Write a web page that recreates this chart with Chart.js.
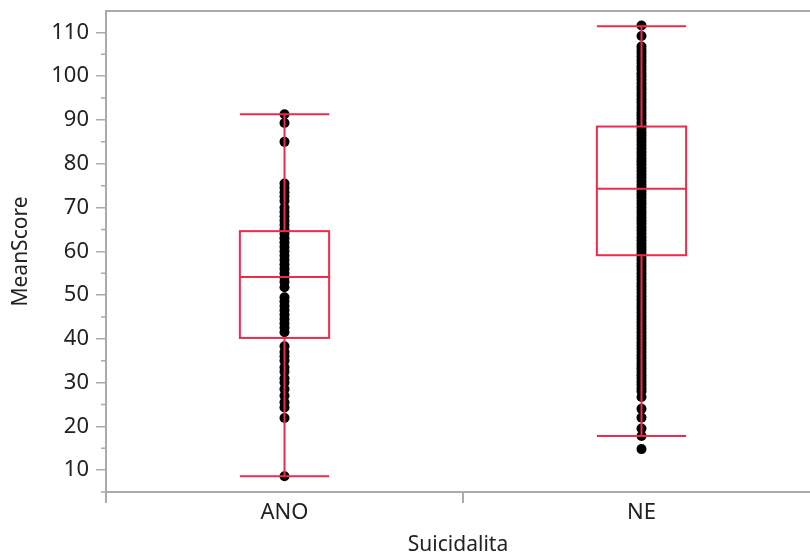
<!DOCTYPE html>
<html>
<head>
<meta charset="utf-8">
<script src="https://cdn.jsdelivr.net/npm/chart.js@4/dist/chart.umd.min.js"></script>
<style>
  html, body { margin: 0; padding: 0; background: #fff; overflow: hidden; }
</style>
</head>
<body>
<canvas id="boxChart" width="810" height="559"></canvas>
<script>
// Data
const categories = ['ANO', 'NE'];
const yTicks = [10, 20, 30, 40, 50, 60, 70, 80, 90, 100, 110];
const yMinorTicks = [5, 15, 25, 35, 45, 55, 65, 75, 85, 95, 105];

const anoScores = [91.3, 89.3, 85, 75.5, 74.5, 73.5, 72.5, 71.5, 70, 69, 68, 67, 66, 65,
    64, 63, 62, 61, 60, 59, 58, 57, 56, 55, 54, 53, 51.8, 49.5, 48.5, 47.5, 46.5, 45.5,
    44.5, 43.5, 42.5, 41.5, 38.3, 37, 36, 35, 33.5, 32.5, 31, 30, 28.5, 27, 25.5, 24.3,
    21.9, 8.6];

const neScores = [111.6, 109.2, 106.8, 106, 105.3, 104.5, 103.7, 103, 102.2, 101.5, 100.6,
    100, 99.2, 98.4, 97.6, 97, 96.2, 95.5, 94.7, 94, 93.2, 92.5, 91.7, 91, 90.3, 89.5, 88.8,
    88, 87.2, 86.5, 85.7, 85, 84.3, 83.5, 82.7, 82, 81.2, 80.5, 79.8, 79, 78.3, 77.5, 76.8,
    76, 75.2, 74.5, 73.7, 73, 72.3, 71.5, 70.8, 70, 69.2, 68.5, 67.7, 67, 66.3, 65.5, 64.8,
    64, 63.2, 62.5, 61.7, 61, 60.3, 59.5, 58.7, 58, 57.2, 56.5, 55.8, 55, 54.2, 53.5, 52.7,
    52, 51.3, 50.5, 49.7, 49, 48.2, 47.5, 46.8, 46, 45.2, 44.5, 43.7, 43, 42.3, 41.5, 40.7,
    40, 39.2, 38.5, 37.8, 37, 36.2, 35.5, 34.7, 34, 33.3, 32.5, 31.7, 31, 30.2, 29.5, 28.7,
    28, 26.7, 24, 22, 19.5, 17.8, 14.8];

// box statistics per category
const whiskerLow = [8.6, 17.8];
const quart1 = [40.2, 59.1];
const medians = [54.1, 74.3];
const quart3 = [64.6, 88.5];
const whiskerHigh = [91.3, 111.4];

const boxRed = '#f02a4c';
const axisGrey = '#ababab';
const fontFamily = '"Noto Sans", "Open Sans", sans-serif';

const boxPlugin = {
    id: 'boxPlot',
    afterDatasetsDraw(chart) {
        const ctx = chart.ctx;
        const xs = chart.scales.x, ys = chart.scales.y;
        const half = 0.125;
        ctx.save();
        ctx.strokeStyle = boxRed;
        ctx.lineWidth = 2;
        categories.forEach((c, i) => {
            const xl = xs.getPixelForValue(i - half);
            const xr = xs.getPixelForValue(i + half);
            const xc = xs.getPixelForValue(i);
            const pLo = ys.getPixelForValue(whiskerLow[i]);
            const pQ1 = ys.getPixelForValue(quart1[i]);
            const pMed = ys.getPixelForValue(medians[i]);
            const pQ3 = ys.getPixelForValue(quart3[i]);
            const pHi = ys.getPixelForValue(whiskerHigh[i]);
            ctx.beginPath();
            // whiskers
            ctx.moveTo(xc, pHi); ctx.lineTo(xc, pQ3);
            ctx.moveTo(xc, pQ1); ctx.lineTo(xc, pLo);
            // caps
            ctx.moveTo(xl, pHi); ctx.lineTo(xr, pHi);
            ctx.moveTo(xl, pLo); ctx.lineTo(xr, pLo);
            // median
            ctx.moveTo(xl, pMed); ctx.lineTo(xr, pMed);
            ctx.stroke();
            ctx.strokeRect(xl, pQ3, xr - xl, pQ1 - pQ3);
        });
        ctx.restore();
    },
    afterDraw(chart) {
        const ctx = chart.ctx;
        const area = chart.chartArea;
        const ys = chart.scales.y;
        ctx.save();
        ctx.strokeStyle = axisGrey;
        // top frame line
        ctx.lineWidth = 2;
        ctx.beginPath();
        ctx.moveTo(area.left, area.top);
        ctx.lineTo(area.right, area.top);
        ctx.stroke();
        // minor ticks
        ctx.lineWidth = 1.5;
        ctx.beginPath();
        yMinorTicks.forEach(v => {
            const py = ys.getPixelForValue(v);
            ctx.moveTo(area.left - 5, py);
            ctx.lineTo(area.left, py);
        });
        ctx.stroke();
        ctx.restore();
    }
};

const xTickValues = [-0.5, 0, 0.5, 1];

new Chart('boxChart', {
    type: 'scatter',
    data: {
        datasets: [{
            label: categories[0],
            data: anoScores.map(v => ({ x: 0, y: v })),
            backgroundColor: '#000',
            borderWidth: 0,
            pointRadius: 5
        }, {
            label: categories[1],
            data: neScores.map(v => ({ x: 1, y: v })),
            backgroundColor: '#000',
            borderWidth: 0,
            pointRadius: 5
        }]
    },
    options: {
        responsive: false,
        animation: false,
        layout: { autoPadding: false, padding: { top: 11, right: 0, left: 0, bottom: 0 } },
        plugins: {
            legend: { display: false },
            tooltip: { enabled: false }
        },
        scales: {
            x: {
                type: 'linear',
                min: -0.5,
                max: 1.472,
                afterBuildTicks: scale => {
                    scale.ticks = xTickValues.map(v => ({ value: v }));
                },
                afterFit: scale => {
                    scale.height = 67;
                    scale.paddingLeft = 0;
                    scale.paddingRight = 0;
                },
                ticks: {
                    autoSkip: false,
                    maxRotation: 0,
                    padding: -3,
                    color: '#222',
                    font: { family: fontFamily, size: 22 },
                    callback: v => Number.isInteger(v) ? categories[v] : ''
                },
                grid: {
                    drawOnChartArea: false,
                    tickLength: 11,
                    lineWidth: 2,
                    tickColor: c => Number.isInteger(c.tick && c.tick.value) ? 'rgba(0,0,0,0)' : axisGrey
                },
                border: { color: axisGrey, width: 2 },
                title: {
                    display: true,
                    text: 'Suicidalita',
                    color: '#222',
                    font: { family: fontFamily, size: 21 },
                    padding: { top: 0, bottom: 1 }
                }
            },
            y: {
                min: 5,
                max: 114.9,
                afterBuildTicks: scale => {
                    scale.ticks = yTicks.map(v => ({ value: v }));
                },
                afterFit: scale => {
                    scale.width = 106;
                    scale.paddingTop = 0;
                    scale.paddingBottom = 0;
                },
                ticks: {
                    padding: 7,
                    color: '#222',
                    font: { family: fontFamily, size: 22 }
                },
                grid: {
                    drawOnChartArea: false,
                    tickLength: 10,
                    lineWidth: 1.5,
                    color: axisGrey
                },
                border: { color: axisGrey, width: 2 },
                title: {
                    display: true,
                    text: 'MeanScore',
                    color: '#222',
                    font: { family: fontFamily, size: 21 },
                    padding: { top: 8, bottom: 0 }
                }
            }
        }
    },
    plugins: [boxPlugin]
});
</script>
</body>
</html>
